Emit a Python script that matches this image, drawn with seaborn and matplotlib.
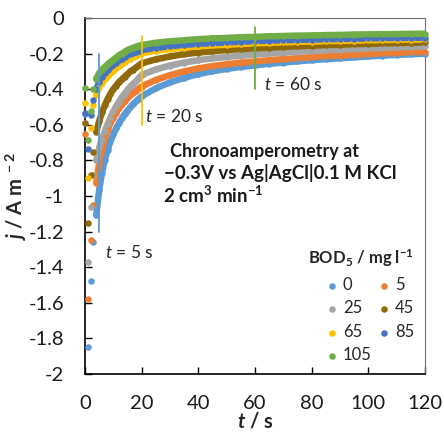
import matplotlib
matplotlib.use("Agg")
import matplotlib.pyplot as plt
import seaborn as sns
import pandas as pd

# time axis (s): 1 s steps early, then 5 s steps
t_s = [0, 1, 2, 3, 4, 5, 6, 7, 8, 9, 10, 11, 12, 13, 14, 15, 16, 17, 18, 19, 20,
       25, 30, 35, 40, 45, 50, 55, 60, 65, 70, 75, 80, 85, 90, 95, 100, 105, 110, 115, 120]

# current density j (A m-2), one list per BOD5 level
j_bod0 = [-0.54, -1.85, -1.48, -1.26, -1.105, -0.967, -0.871, -0.796, -0.740, -0.693, -0.654,
          -0.620, -0.590, -0.563, -0.541, -0.521, -0.502, -0.483, -0.468, -0.454, -0.440,
          -0.395, -0.362, -0.336, -0.315, -0.299, -0.286, -0.275, -0.266, -0.257, -0.250,
          -0.243, -0.237, -0.231, -0.226, -0.221, -0.216, -0.211, -0.207, -0.204, -0.200]
j_bod5 = [-0.65, -1.58, -1.25, -1.05, -0.925, -0.814, -0.735, -0.674, -0.629, -0.591, -0.559,
          -0.531, -0.506, -0.485, -0.467, -0.451, -0.435, -0.420, -0.408, -0.396, -0.385,
          -0.348, -0.321, -0.300, -0.283, -0.270, -0.260, -0.251, -0.244, -0.237, -0.231,
          -0.226, -0.220, -0.215, -0.211, -0.207, -0.203, -0.199, -0.196, -0.193, -0.190]
j_bod25 = [-0.59, -1.37, -1.06, -0.88, -0.800, -0.730, -0.680, -0.635, -0.595, -0.560, -0.525,
           -0.495, -0.470, -0.445, -0.425, -0.405, -0.385, -0.370, -0.355, -0.337, -0.320,
           -0.289, -0.267, -0.250, -0.237, -0.227, -0.219, -0.212, -0.205, -0.199, -0.194,
           -0.189, -0.185, -0.181, -0.177, -0.174, -0.171, -0.168, -0.165, -0.162, -0.160]
j_bod45 = [-0.59, -1.15, -0.88, -0.75, -0.640, -0.580, -0.530, -0.490, -0.455, -0.425, -0.400,
           -0.380, -0.360, -0.345, -0.330, -0.315, -0.300, -0.290, -0.278, -0.266, -0.255,
           -0.232, -0.216, -0.203, -0.194, -0.187, -0.180, -0.175, -0.170, -0.166, -0.162,
           -0.159, -0.155, -0.152, -0.150, -0.147, -0.145, -0.143, -0.141, -0.139, -0.137]
j_bod65 = [-0.48, -0.90, -0.62, -0.49, -0.430, -0.390, -0.365, -0.345, -0.327, -0.311, -0.298,
           -0.283, -0.270, -0.258, -0.247, -0.237, -0.228, -0.219, -0.211, -0.204, -0.198,
           -0.184, -0.174, -0.166, -0.159, -0.154, -0.150, -0.146, -0.142, -0.139, -0.137,
           -0.134, -0.132, -0.130, -0.128, -0.127, -0.125, -0.124, -0.122, -0.121, -0.120]
j_bod85 = [-0.535, -0.735, -0.545, -0.46, -0.400, -0.360, -0.330, -0.310, -0.293, -0.278, -0.264,
           -0.250, -0.238, -0.228, -0.218, -0.208, -0.200, -0.195, -0.189, -0.184, -0.180,
           -0.168, -0.158, -0.151, -0.145, -0.141, -0.137, -0.133, -0.130, -0.127, -0.125,
           -0.123, -0.121, -0.119, -0.118, -0.116, -0.115, -0.113, -0.112, -0.111, -0.110]
j_bod105 = [-0.395, -0.685, -0.52, -0.40, -0.340, -0.310, -0.290, -0.275, -0.260, -0.247, -0.235,
            -0.222, -0.210, -0.200, -0.190, -0.180, -0.173, -0.167, -0.161, -0.156, -0.152,
            -0.139, -0.131, -0.125, -0.119, -0.115, -0.112, -0.108, -0.106, -0.103, -0.101,
            -0.099, -0.098, -0.096, -0.095, -0.093, -0.092, -0.091, -0.090, -0.089, -0.088]

bod_labels = ["0", "5", "25", "45", "65", "85", "105"]
bod_colors = ["#5B9BD5", "#ED7D31", "#A5A5A5", "#8F6A0A", "#FFC000", "#4472C4", "#70AD47"]
series = [j_bod0, j_bod5, j_bod25, j_bod45, j_bod65, j_bod85, j_bod105]

# marked times
mark_t = [5, 20, 60]
mark_top = [-0.2, -0.1, -0.05]
mark_bottom = [-1.2, -0.6, -0.4]
mark_colors = ["#5B9BD5", "#FFC000", "#70AD47"]

x_ticks = [0, 20, 40, 60, 80, 100, 120]
y_ticks = [0, -0.2, -0.4, -0.6, -0.8, -1, -1.2, -1.4, -1.6, -1.8, -2]
y_tick_labels = ["0", "-0.2", "-0.4", "-0.6", "-0.8", "-1", "-1.2", "-1.4", "-1.6", "-1.8", "-2"]

sns.set_theme(style="ticks")
plt.rcParams["font.family"] = ["Lato", "DejaVu Sans"]
plt.rcParams["mathtext.fontset"] = "custom"
plt.rcParams["mathtext.rm"] = "Lato"
plt.rcParams["mathtext.it"] = "Lato:italic"
plt.rcParams["mathtext.bf"] = "Lato:bold"
plt.rcParams["mathtext.bfit"] = "Lato:italic:bold"
plt.rcParams["axes.unicode_minus"] = False

fig = plt.figure(figsize=(4.44, 4.33), dpi=100)
ax = fig.add_axes([0.1914, 0.1363, 0.7658, 0.8221])

for lab, col, vals in zip(bod_labels, bod_colors, series):
    df = pd.DataFrame({"t": t_s, "j": vals})
    band = df[df["t"] >= 4]
    sns.lineplot(data=band, x="t", y="j", color=col, linewidth=4.7, estimator=None,
                 solid_capstyle="round", legend=False, ax=ax)
    sns.scatterplot(data=df, x="t", y="j", color=col, s=22, linewidth=0,
                    label=lab, clip_on=False, zorder=3, ax=ax)

for tm, top, bot, col in zip(mark_t, mark_top, mark_bottom, mark_colors):
    ax.plot([tm, tm], [top, bot], color=col, linewidth=1.3, zorder=4)

ax.text(7.2, -1.317, "$t$ = 5 s", fontsize=12.5, va="center", color="#262626")
ax.text(21.2, -0.556, "$t$ = 20 s", fontsize=12.5, va="center", color="#262626")
ax.text(63.2, -0.375, "$t$ = 60 s", fontsize=12.5, va="center", color="#262626")

ax.text(30.0, -0.748, "Chronoamperometry at", fontsize=13, fontweight="bold",
        va="center", color="#1a1a1a")
ax.text(28.0, -0.872, "\u22120.3V vs Ag|AgCl|0.1 M KCl", fontsize=13.5, fontweight="bold",
        va="center", color="#1a1a1a")
ax.text(27.5, -0.995, r"2 cm$^{\mathbf{3}}$ min$^{\mathbf{-1}}$", fontsize=13.5,
        fontweight="bold", va="center", color="#1a1a1a")

ax.set_xlim(0, 120)
ax.set_ylim(-2, 0)
ax.set_xticks(x_ticks)
ax.set_xticklabels([str(v) for v in x_ticks])
ax.set_yticks(y_ticks)
ax.set_yticklabels(y_tick_labels)
ax.tick_params(direction="in", length=5, width=1, color="black", labelsize=14.5,
               labelcolor="#1a1a1a", pad=15, top=False, right=False)

ax.set_xlabel(r"$\mathbfit{t}$ / s", fontsize=14.5, fontweight="bold")
ax.set_ylabel(r"$\mathbfit{j}$ / A m$^{\mathbf{\ -2}}$", fontsize=14.5, fontweight="bold")
ax.xaxis.set_label_coords(0.5, -0.105)
ax.yaxis.set_label_coords(-0.165, 0.5)

for side in ["left", "bottom"]:
    ax.spines[side].set_color("black")
    ax.spines[side].set_linewidth(1.2)
for side in ["top", "right"]:
    ax.spines[side].set_color("#6e6e6e")
    ax.spines[side].set_linewidth(0.8)

handles, labels = ax.get_legend_handles_labels()
keep = [(h, l) for h, l in zip(handles, labels) if l in bod_labels]
order = [0, 2, 4, 6, 1, 3, 5]
leg = ax.legend([keep[i][0] for i in order], [keep[i][1] for i in order], ncol=2,
                title=r"BOD$_{\mathbf{5}}$ / mg l$^{\mathbf{-1}}$",
                title_fontproperties={"weight": "bold", "size": 12},
                frameon=False, loc="upper right", bbox_to_anchor=(0.993, 0.378),
                alignment="right", fontsize=12, handlelength=0.6, handletextpad=0.35,
                columnspacing=0.45, labelspacing=0.45, borderpad=0)

fig.savefig("out.png", dpi=100)
